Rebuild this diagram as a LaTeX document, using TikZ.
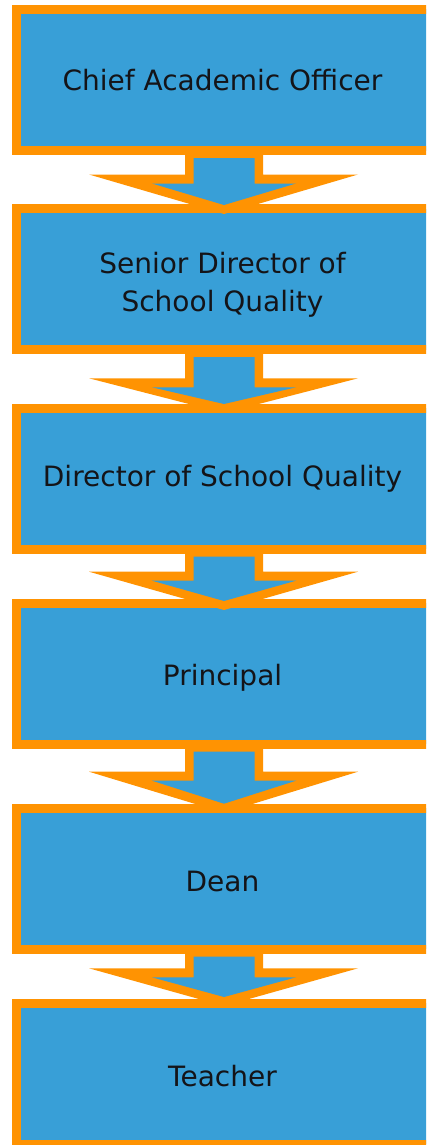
\documentclass[tikz,border=0pt]{standalone}
\usepackage{fontspec}
\setmainfont{DejaVu Sans}
\usetikzlibrary{calc}

\definecolor{boxblue}{RGB}{56,159,215}
\definecolor{rimorange}{RGB}{255,147,2}
\definecolor{inktext}{RGB}{20,20,24}

% Block arrow hanging from the bottom of a box:
% #1 upper box, #2 wing top (y), #3 outer tip (y)
\newcommand{\orgarrow}[3]{%
  \fill[rimorange]
    (#1.south -| 185,0) -- (185,#2) -- (89,#2) -- (224,#3) --
    (358,#2) -- (263,#2) -- (#1.south -| 263,0) -- cycle;
  \fill[boxblue]
    ($(#1.south -| 193.5,0)+(0,7.5)$) -- (193.5,{#2+9}) -- (152,{#2+9}) --
    (224,{#3-9}) -- (296,{#2+9}) -- (254.5,{#2+9}) --
    ($(#1.south -| 254.5,0)+(0,7.5)$) -- cycle;
}

\tikzset{
  orgbox/.style={draw=rimorange, fill=boxblue, line width=9pt, rectangle,
    minimum width=415.5pt, minimum height=141pt, inner sep=0pt, outer sep=0pt},
  orglabel/.style={text=inktext, font=\fontsize{28}{38.7}\selectfont,
    anchor=base, inner sep=0pt, align=center}
}

\begin{document}
\begin{tikzpicture}[x=1pt, y=-1pt]
  \useasboundingbox (0,0) rectangle (426,1145);
  \clip (0,0) rectangle (426,1145);

  % boxes of the reporting chain
  \node[orgbox] (b1) at (224.25,80) {};
  \node[orgbox] (b2) at (224.25,279) {};
  \node[orgbox] (b3) at (224.25,478.5) {};
  \node[orgbox] (b4) at (224.25,673.5) {};
  \node[orgbox] (b5) at (224.25,878.5) {};
  \node[orgbox] (b6) at (224.25,1073.5) {};

  % arrows from each box to the one below it
  \orgarrow{b1}{174.5}{214}
  \orgarrow{b2}{378.3}{413}
  \orgarrow{b3}{571.7}{610}
  \orgarrow{b4}{771.7}{812.7}
  \orgarrow{b5}{968.3}{1006}

  % titles
  \node[orglabel] (t1) at (222.5,90.5) {Chief Academic Officer};
  \node[orglabel] (t2) at (222.5,311.7) {Senior Director of\\School Quality};
  \node[orglabel] (t3) at (222.5,486.7) {Director of School Quality};
  \node[orglabel] (t4) at (222.5,685.7) {Principal};
  \node[orglabel] (t5) at (222.5,891.7) {Dean};
  \node[orglabel] (t6) at (222.5,1086) {Teacher};
\end{tikzpicture}
\end{document}
